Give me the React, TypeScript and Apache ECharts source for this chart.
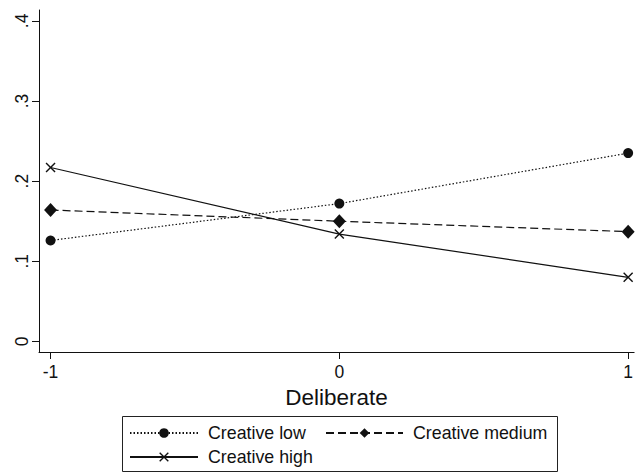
import React, { useEffect, useRef } from "react";
import * as echarts from "echarts";

const xTicks = [-1, 0, 1];
const yTicks = [0, 0.1, 0.2, 0.3, 0.4];
const seriesNames = ["Creative low", "Creative medium", "Creative high"];
const lowValues = [0.126, 0.172, 0.235];
const mediumValues = [0.164, 0.150, 0.137];
const highValues = [0.217, 0.134, 0.080];
const xAxisTitle = "Deliberate";

const FONT = "'Liberation Sans', Arial, Helvetica, sans-serif";
const INK = "#111111";
const CROSS = "path://M0,1L1,0L5,4L9,0L10,1L6,5L10,9L9,10L5,6L1,10L0,9L4,5Z";

const fmtY = (v: number) => (v === 0 ? "0" : String(Math.round(v * 10) / 10).replace(/^0/, ""));

export default function App() {
  const ref = useRef<HTMLDivElement>(null);
  useEffect(() => {
    if (!ref.current) return;
    const chart = echarts.init(ref.current, null, { renderer: "svg" });
    const pts = (vals: number[]) => xTicks.map((x, i) => [x, vals[i]]);
    const legendBase = {
      orient: "horizontal",
      padding: 0,
      itemWidth: 68,
      itemHeight: 12,
      textStyle: { fontFamily: FONT, fontSize: 17.8, color: INK, padding: [0, 0, 0, 5] },
      selectedMode: false,
    };
    chart.setOption({
      animation: false,
      backgroundColor: "#ffffff",
      grid: { left: 39, top: 10, width: 597, height: 342, containLabel: false },
      xAxis: {
        type: "value",
        min: -1.04,
        max: 1.0207,
        name: xAxisTitle,
        nameLocation: "middle",
        nameGap: 33,
        nameTextStyle: { fontFamily: FONT, fontSize: 22.5, color: INK },
        axisLine: { show: true, onZero: false, lineStyle: { color: INK, width: 1 } },
        axisTick: { show: true, length: 7, lineStyle: { color: INK }, customValues: xTicks },
        axisLabel: { fontFamily: FONT, fontSize: 17.5, color: INK, margin: 11, customValues: xTicks, formatter: (v: number) => String(v) },
        splitLine: { show: false },
      },
      yAxis: {
        type: "value",
        min: -0.0132,
        max: 0.4136,
        axisLine: { show: true, onZero: false, lineStyle: { color: INK, width: 1 } },
        axisTick: { show: true, length: 7, lineStyle: { color: INK }, customValues: yTicks },
        axisLabel: { fontFamily: FONT, fontSize: 17.5, color: INK, margin: 8, rotate: 90, customValues: yTicks, formatter: fmtY },
        splitLine: { show: false },
      },
      legend: [
        { ...legendBase, data: [seriesNames[0]], left: 129, top: 424 },
        { ...legendBase, itemWidth: 77, data: [seriesNames[1]], left: 325, top: 424 },
        { ...legendBase, data: [seriesNames[2]], left: 129, top: 448 },
      ],
      graphic: [
        {
          type: "rect",
          shape: { x: 122.5, y: 416.5, width: 435, height: 55 },
          style: { fill: "none", stroke: "#222222", lineWidth: 1 },
          silent: true,
        },
      ],
      series: [
        {
          name: seriesNames[0],
          type: "line",
          data: pts(lowValues),
          symbol: "circle",
          symbolSize: 10,
          itemStyle: { color: INK },
          lineStyle: { color: INK, width: 1.2, type: [1.5, 2] },
        },
        {
          name: seriesNames[1],
          type: "line",
          data: pts(mediumValues),
          symbol: "diamond",
          symbolSize: [13, 14],
          itemStyle: { color: INK },
          lineStyle: { color: INK, width: 1.2, type: [8, 4] },
        },
        {
          name: seriesNames[2],
          type: "line",
          data: pts(highValues),
          symbol: CROSS,
          symbolSize: 10,
          itemStyle: { color: INK },
          lineStyle: { color: INK, width: 1.2, type: "solid" },
        },
      ],
    });
    return () => chart.dispose();
  }, []);
  return <div ref={ref} style={{ width: 636, height: 473, position: "absolute", left: 0, top: 0 }} />;
}
